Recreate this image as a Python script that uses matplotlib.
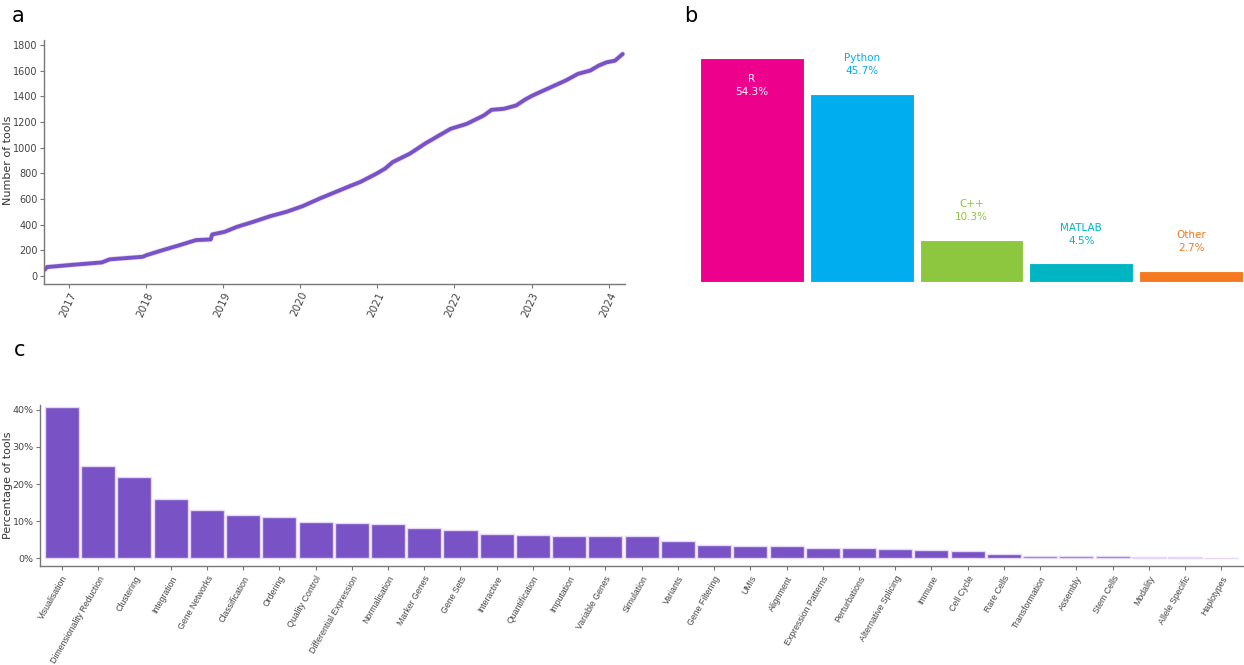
import matplotlib.pyplot as plt
import numpy as np

# panel a: cumulative number of tools (decimal year, count)
years = [2016.69, 2016.72, 2017.0, 2017.43, 2017.53, 2017.96, 2018.01, 2018.22, 2018.44,
         2018.65, 2018.84, 2018.86, 2019.02, 2019.18, 2019.39, 2019.61, 2019.82, 2020.03,
         2020.25, 2020.46, 2020.67, 2020.78, 2020.99, 2021.10, 2021.2, 2021.42, 2021.63,
         2021.84, 2021.95, 2022.16, 2022.38, 2022.48, 2022.64, 2022.8, 2022.91, 2023.01,
         2023.23, 2023.44, 2023.6, 2023.76, 2023.87, 2023.97, 2024.08, 2024.18]
n_tools = [50, 70, 85, 106, 130, 150, 163, 202, 241,
           280, 285, 324, 344, 383, 422, 466, 500, 544,
           603, 655, 707, 733, 798, 837, 888, 953, 1036,
           1109, 1147, 1186, 1251, 1295, 1303, 1329, 1373, 1406,
           1466, 1523, 1575, 1601, 1640, 1665, 1678, 1730]
year_ticks = [2017, 2018, 2019, 2020, 2021, 2022, 2023, 2024]

# panel b: languages
langs = ['R', 'Python', 'C++', 'MATLAB', 'Other']
lang_pct = [54.3, 45.7, 10.3, 4.5, 2.7]
lang_cols = ['#ec008c', '#00aeef', '#8dc63f', '#00b5c2', '#f47920']

# panel c: categories
cats = ['Visualisation', 'Dimensionality Reduction', 'Clustering', 'Integration',
        'Gene Networks', 'Classification', 'Ordering', 'Quality Control',
        'Differential Expression', 'Normalisation', 'Marker Genes', 'Gene Sets',
        'Interactive', 'Quantification', 'Imputation', 'Variable Genes', 'Simulation',
        'Variants', 'Gene Filtering', 'UMIs', 'Alignment', 'Expression Patterns',
        'Perturbations', 'Alternative Splicing', 'Immune', 'Cell Cycle', 'Rare Cells',
        'Transformation', 'Assembly', 'Stem Cells', 'Modality', 'Allele Specific',
        'Haplotypes']
cat_pct = [40.7, 24.9, 22.0, 16.0, 13.0, 11.8, 11.1, 9.9, 9.4, 9.35, 8.3, 7.7,
           6.5, 6.2, 6.1, 6.0, 5.9, 4.7, 3.7, 3.3, 3.2, 2.85, 2.85, 2.5, 2.3, 2.1,
           1.1, 0.7, 0.55, 0.55, 0.45, 0.4, 0.1]

purple = '#7952c6'
edge = '#e4d8f6'
spine_col = '#777777'
tick_col = '#444444'

plt.rcParams['font.family'] = 'DejaVu Sans'
fig = plt.figure(figsize=(12.44, 6.65), dpi=100)
W, H = 1244, 665

def ax_px(l, t, r, b):
    return fig.add_axes([l / W, 1 - b / H, (r - l) / W, (b - t) / H])

def style(ax):
    for s in ['top', 'right']:
        ax.spines[s].set_visible(False)
    for s in ['left', 'bottom']:
        ax.spines[s].set_color(spine_col)
        ax.spines[s].set_linewidth(1)
    ax.tick_params(colors=spine_col, labelcolor=tick_col, length=3, width=0.8, pad=1.5)

# ---- a
axa = ax_px(44, 40, 625, 284)
axa.plot(years, n_tools, color=edge, lw=3.8, solid_capstyle='round', solid_joinstyle='round')
axa.plot(years, n_tools, color=purple, lw=2.8, solid_capstyle='round', solid_joinstyle='round')
axa.set_xlim(2016.68, 2024.21)
axa.set_ylim(-62, 1839)
axa.set_yticks(range(0, 1801, 200))
axa.set_xticks(year_ticks)
axa.set_xticklabels([str(y) for y in year_ticks], rotation=65, ha='right',
                    rotation_mode='anchor')
style(axa)
axa.tick_params(axis='x', labelsize=7.5)
axa.tick_params(axis='y', labelsize=7)
fig.text(8 / W, 1 - 160 / H, 'Number of tools', rotation=90, fontsize=8,
         color='#333333', ha='center', va='center')

# ---- b
axb = ax_px(700, 40, 1243, 282)
xb = np.arange(len(langs))
axb.bar(xb, lang_pct, width=0.945, color=lang_cols, edgecolor='white', linewidth=0.8)
axb.set_xlim(-0.4725, 4.4725)
axb.set_ylim(0, 242 / 4.12)
axb.axis('off')
for i, (n, p, c) in enumerate(zip(langs, lang_pct, lang_cols)):
    if p > 50:
        axb.text(i, p - 3.9, f'{n}\n{p}%', ha='center', va='top', color='white',
                 fontsize=7.5, linespacing=1.35)
    else:
        axb.text(i, p + 4.3, f'{n}\n{p}%', ha='center', va='bottom', color=c,
                 fontsize=7.5, linespacing=1.35)

# ---- c
axc = ax_px(40, 405, 1243, 566)
xc = np.arange(len(cats))
axc.bar(xc, cat_pct, width=0.94, color=purple, edgecolor=edge, linewidth=1)
axc.set_xlim(-0.607, 32.6)
axc.set_ylim(-2.07, 41.3)
axc.set_yticks([0, 10, 20, 30, 40])
axc.set_yticklabels(['0%', '10%', '20%', '30%', '40%'])
axc.set_xticks(xc)
axc.set_xticklabels(cats, rotation=60, ha='right', rotation_mode='anchor',
                    family='Liberation Sans')
style(axc)
axc.tick_params(axis='y', labelsize=6.8)
axc.tick_params(axis='x', labelsize=6.3, pad=3)
fig.text(8 / W, 1 - 485 / H, 'Percentage of tools', rotation=90, fontsize=8,
         color='#333333', ha='center', va='center')

fig.text(12 / W, 1 - 16 / H, 'a', fontsize=15, va='center', ha='left')
fig.text(684 / W, 1 - 16 / H, 'b', fontsize=15, va='center', ha='left')
fig.text(14 / W, 1 - 350 / H, 'c', fontsize=15, va='center', ha='left')

fig.savefig('out.png', dpi=100, facecolor='white')
